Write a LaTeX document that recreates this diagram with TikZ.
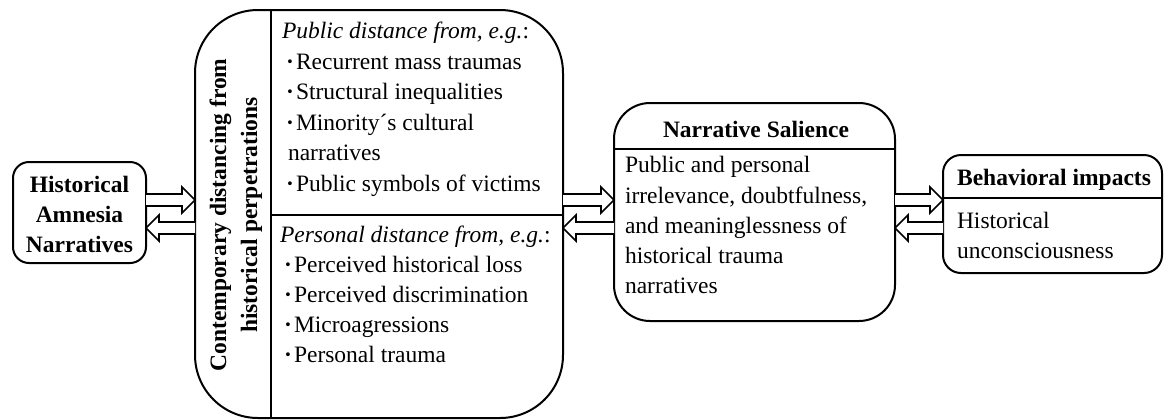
\documentclass[tikz,border=0pt]{standalone}
\usepackage{fontspec}
\setmainfont{Liberation Serif}
\usetikzlibrary{calc}
\newcommand\fs{\fontsize{11.75}{15}\selectfont}
\newcommand\bul{\makebox[5pt][l]{\bfseries ·}}
\tikzset{
  box/.style={draw, line width=1pt, inner sep=0pt, outer sep=0pt},
  txt/.style={inner sep=0pt, outer sep=0pt, anchor=base west, font=\fs},
  ctxt/.style={inner sep=0pt, outer sep=0pt, anchor=base, font=\fs\bfseries},
  divider/.style={line width=1pt},
  barrow/.style={draw, line width=0.8pt, line join=miter, fill=white},
}
\newcommand\rarrow[3]{%
  \draw[barrow] ($(#1.east|-#3)+(0,-6)$) -- ($(#2.west|-#3)+(-13,-6)$) -- ($(#2.west|-#3)+(-13,-13)$) -- (#2.west|-#3) -- ($(#2.west|-#3)+(-13,13)$) -- ($(#2.west|-#3)+(-13,6)$) -- ($(#1.east|-#3)+(0,6)$);}
\newcommand\larrow[3]{%
  \draw[barrow] ($(#1.west|-#3)+(0,-6)$) -- ($(#2.east|-#3)+(13,-6)$) -- ($(#2.east|-#3)+(13,-13)$) -- (#2.east|-#3) -- ($(#2.east|-#3)+(13,13)$) -- ($(#2.east|-#3)+(13,6)$) -- ($(#1.west|-#3)+(0,6)$);}
\begin{document}
\begin{tikzpicture}[x=0.5pt,y=-0.5pt]
\useasboundingbox (0,0) rectangle (1168,419);
% boxes
\node[box, minimum width=66.5pt, minimum height=50.5pt, rounded corners=8pt] (hist) at (79.5,212.5) {};
\node[box, minimum width=184pt, minimum height=204pt, rounded corners=31.5pt] (big) at (379,214) {};
\node[box, minimum width=140.5pt, minimum height=109pt, rounded corners=18pt] (narr) at (754.5,212) {};
\node[box, minimum width=109.5pt, minimum height=59pt, rounded corners=9pt] (beh) at (1052.5,214) {};
% dividers
\coordinate (vx) at (271,0);
\draw[divider] (vx|-big.north) -- (vx|-big.south);
\coordinate (hy) at (0,215);
\draw[divider] (271,215) -- (big.east|-hy);
\coordinate (ny) at (0,149);
\draw[divider] (narr.west|-ny) -- (narr.east|-ny);
\coordinate (by) at (0,198);
\draw[divider] (beh.west|-by) -- (beh.east|-by);
% arrow levels
\coordinate (yR) at (0,200);
\coordinate (yL) at (0,228);
\rarrow{hist}{big}{yR}
\larrow{big}{hist}{yL}
\rarrow{big}{narr}{yR}
\larrow{narr}{big}{yL}
\rarrow{narr}{beh}{yR}
\larrow{beh}{narr}{yL}
% left box text
\node[ctxt] (h1) at (79.5,192) {Historical};
\node[ctxt] (h2) at (79.5,222) {Amnesia};
\node[ctxt] (h3) at (79.5,252) {Narratives};
% rotated text
\node[ctxt, rotate=90] (r1) at (226,215) {Contemporary distancing from};
\node[ctxt, rotate=90] (r2) at (257,215) {historical perpetrations};
% public list
\node[txt] (p0) at (282,38) {\textit{Public distance from, e.g.}:};
\node[txt] (p1) at (286,69) {\bul Recurrent mass traumas};
\node[txt] (p2) at (286,99) {\bul Structural inequalities};
\node[txt] (p3) at (286,130) {\bul Minority´s cultural};
\node[txt] (p4) at (288,160) {narratives};
\node[txt] (p5) at (286,191) {\bul Public symbols of victims};
% personal list
\node[txt] (q0) at (280,242) {\textit{Personal distance from, e.g.}:};
\node[txt] (q1) at (284,272) {\bul Perceived historical loss};
\node[txt] (q2) at (284,302) {\bul Perceived discrimination};
\node[txt] (q3) at (284,332) {\bul Microagressions};
\node[txt] (q4) at (284,362) {\bul Personal trauma};
% narrative salience
\node[ctxt] (nt) at (756,137) {Narrative Salience};
\node[txt] (n1) at (625,172) {Public and personal};
\node[txt] (n2) at (625,203) {irrelevance, doubtfulness,};
\node[txt] (n3) at (625,233) {and meaninglessness of};
\node[txt] (n4) at (625,263) {historical trauma};
\node[txt] (n5) at (625,293) {narratives};
% behavioral
\node[ctxt] (bt) at (1054,185) {Behavioral impacts};
\node[txt] (b1) at (957,228) {Historical};
\node[txt] (b2) at (957,258) {unconsciousness};
\end{tikzpicture}
\end{document}
